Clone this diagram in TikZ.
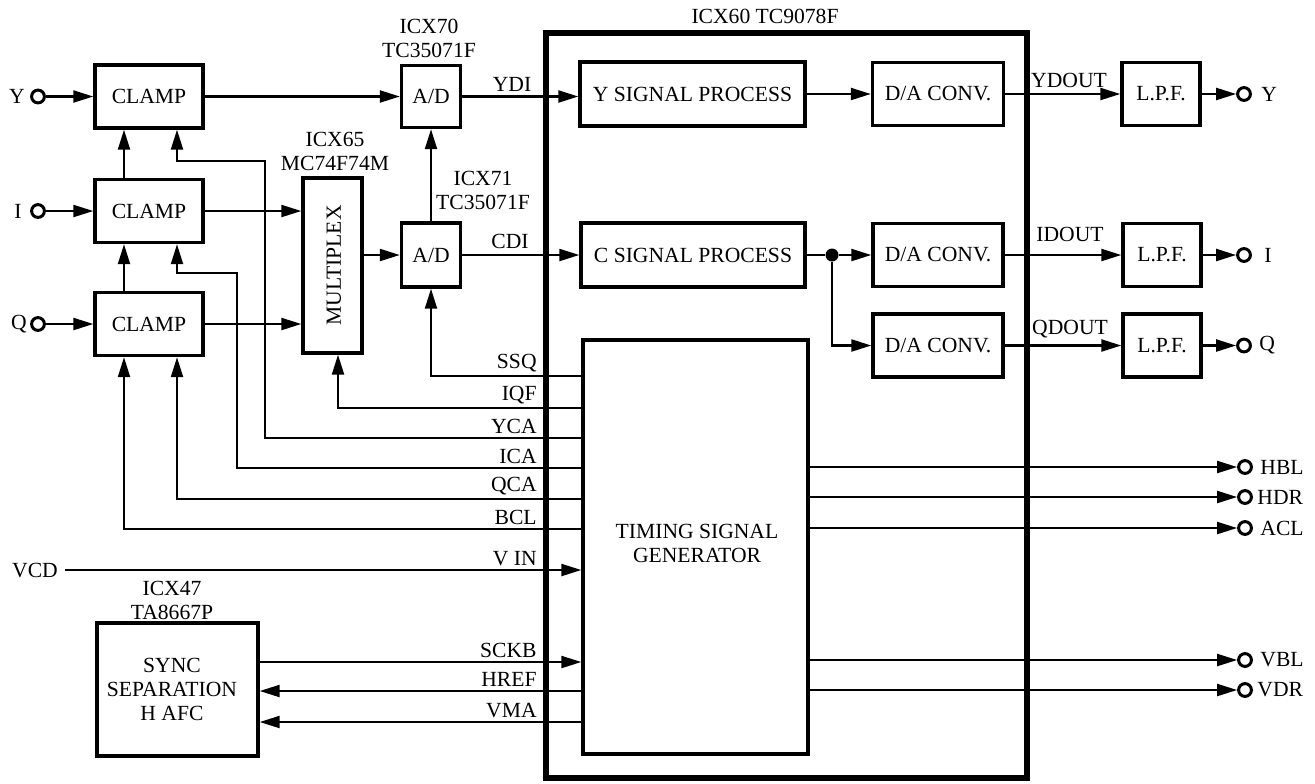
\documentclass[tikz,border=0pt]{standalone}
\usepackage{fontspec}
\setmainfont{Liberation Serif}
\usetikzlibrary{arrows.meta,calc}
\begin{document}
\begin{tikzpicture}[x=0.5pt,y=-0.5pt,
  font=\fontsize{10.8}{12}\selectfont,
  box/.style={draw,line width=1.7pt,inner sep=0pt,align=center},
  wire/.style={line width=1.1pt},
  arr/.style={wire,-{Triangle[length=10pt,width=6pt]}},
  port/.style={circle,draw,line width=1.5pt,minimum size=6.4pt,inner sep=0pt},
  lab/.style={inner sep=0pt,align=center},
  sig/.style={inner sep=0pt,anchor=south east},
]
\useasboundingbox (0,0) rectangle (1315,783);

% big chip outline
\node[draw,line width=3pt,minimum width=240.5pt,minimum height=372.5pt,inner sep=0pt] (big) at (786.5,405.5) {};
\node[lab] (bigt) at (765,16) {ICX60 TC9078F};

% clamps
\node[box,minimum width=54pt,minimum height=31.5pt] (clY) at (149,96.5) {CLAMP};
\node[box,minimum width=54pt,minimum height=31.5pt] (clI) at (149,211) {CLAMP};
\node[box,minimum width=54pt,minimum height=31.5pt] (clQ) at (149,324) {CLAMP};

% inputs
\node[port] (inY) at (38,96.5) {};
\node[port] (inI) at (38,211) {};
\node[port] (inQ) at (38,324) {};
\node[lab] (tY) at (17,96.5) {Y};
\node[lab] (tI) at (18,211) {I};
\node[lab] (tQ) at (19,324) {Q};

% A/D converters and multiplexer
\node[box,minimum width=29.5pt,minimum height=31pt] (adY) at (431,96.5) {A/D};
\node[box,minimum width=29.5pt,minimum height=32pt] (adC) at (431,255) {A/D};
\node[lab] (adYt) at (429,38) {ICX70\\TC35071F};
\node[lab] (adCt) at (483,190) {ICX71\\TC35071F};
\node[box,minimum width=29.5pt,minimum height=87.5pt] (mux) at (332.5,265.5) {};
\node[lab,rotate=90] (muxt) at (334,265.5) {MULTIPLEX};
\node[lab] (muxh) at (335,151) {ICX65\\MC74F74M};

% inside chip
\node[box,minimum width=112.5pt,minimum height=32pt] (ysp) at (692.5,94) {Y SIGNAL PROCESS};
\node[box,minimum width=112pt,minimum height=32pt] (csp) at (693,255) {C SIGNAL PROCESS};
\node[box,minimum width=65.5pt,minimum height=31.5pt] (daY) at (938,94) {D/A CONV.};
\node[box,minimum width=65pt,minimum height=31.5pt] (daI) at (938,255) {D/A CONV.};
\node[box,minimum width=65pt,minimum height=31.5pt] (daQ) at (938,345.5) {D/A CONV.};
\node[box,minimum width=112.5pt,minimum height=207pt] (tsg) at (695.5,547) {};
\node[lab] (tsgt) at (697,543) {TIMING SIGNAL\\GENERATOR};
\node[circle,fill,minimum size=6.5pt,inner sep=0pt] (dot) at (832,255) {};

% low pass filters and outputs
\node[box,minimum width=39pt,minimum height=31.5pt] (lpY) at (1161,94) {L.P.F.};
\node[box,minimum width=39pt,minimum height=31.5pt] (lpI) at (1162,255) {L.P.F.};
\node[box,minimum width=39pt,minimum height=31.5pt] (lpQ) at (1162,345.5) {L.P.F.};
\node[port] (oY) at (1244,94) {};
\node[port] (oI) at (1244,255) {};
\node[port] (oQ) at (1244,345.5) {};
\node[lab,anchor=west] at (1261,94) {Y};
\node[lab,anchor=west] at (1264,255) {I};
\node[lab,anchor=west] at (1259,345.5) {Q};

% sync separator
\node[box,minimum width=80.5pt,minimum height=66.5pt] (sync) at (177.5,689.5) {};
\node[lab] (synct) at (172,689) {SYNC\\SEPARATION\\H AFC};
\node[lab] (syncl) at (172,600) {ICX47\\TA8667P};

% timing outputs
\node[port] (oHBL) at (1245,467) {};
\node[port] (oHDR) at (1245,497) {};
\node[port] (oACL) at (1245,528) {};
\node[port] (oVBL) at (1245,660) {};
\node[port] (oVDR) at (1245,690) {};
\node[lab,anchor=west] at (1260,467) {HBL};
\node[lab,anchor=west] at (1257,497) {HDR};
\node[lab,anchor=west] at (1260,528) {ACL};
\node[lab,anchor=west] at (1260,660) {VBL};
\node[lab,anchor=west] at (1257,690) {VDR};

% helper coordinates
\coordinate (xa) at (124,0);
\coordinate (xb) at (177,0);
\coordinate (xIQF) at (338,0);
\coordinate (kY) at (265,161);
\coordinate (kI) at (237,273);
\coordinate (ySSQ) at (0,376);
\coordinate (yIQF) at (0,408);
\coordinate (yYCA) at (0,438);
\coordinate (yICA) at (0,468);
\coordinate (yQCA) at (0,499);
\coordinate (yBCL) at (0,529);
\coordinate (ySCKB) at (0,662);
\coordinate (yHREF) at (0,691);
\coordinate (yVMA) at (0,722);
\node[inner sep=3.5pt] (vcd) at (35,570) {VCD};

% Y path
\draw[arr] (inY) -- (clY);
\draw[arr] (clY) -- (adY);
\draw[arr] (adY.east) -- (adY.east -| ysp.west);
\draw[arr] (ysp) -- (daY);
\draw[arr] (daY) -- (lpY);
\draw[arr] (lpY) -- (oY);

% I/Q path
\draw[arr] (inI) -- (clI);
\draw[arr] (inQ) -- (clQ);
\draw[arr] (clI.east) -- (clI.east -| mux.west);
\draw[arr] (clQ.east) -- (clQ.east -| mux.west);
\draw[arr] (mux.east |- adC) -- (adC);
\draw[arr] (adC) -- (adY);
\draw[arr] (adC) -- (csp);
\draw[wire] (csp) -- (dot);
\draw[arr] (dot) -- (daI);
\draw[arr] (dot) |- (daQ);
\draw[arr] (daI) -- (lpI);
\draw[arr] (lpI) -- (oI);
\draw[arr] (daQ) -- (lpQ);
\draw[arr] (lpQ) -- (oQ);

% clamp chain
\draw[arr] (clQ.north -| xa) -- (clI.south -| xa);
\draw[arr] (clI.north -| xa) -- (clY.south -| xa);

% timing inputs (left)
\draw[arr] (tsg.west |- ySSQ) -| (adC.south);
\draw[arr] (tsg.west |- yIQF) -| (mux.south -| xIQF);
\draw[arr] (tsg.west |- yYCA) -| (kY) -| (clY.south -| xb);
\draw[arr] (tsg.west |- yICA) -| (kI) -| (clI.south -| xb);
\draw[arr] (tsg.west |- yQCA) -| (clQ.south -| xb);
\draw[arr] (tsg.west |- yBCL) -| (clQ.south -| xa);
\draw[arr] (vcd) -- (tsg.west |- vcd);
\draw[arr] (sync.east |- ySCKB) -- (tsg.west |- ySCKB);
\draw[arr] (tsg.west |- yHREF) -- (sync.east |- yHREF);
\draw[arr] (tsg.west |- yVMA) -- (sync.east |- yVMA);

% timing outputs (right)
\draw[arr] (tsg.east |- oHBL) -- (oHBL);
\draw[arr] (tsg.east |- oHDR) -- (oHDR);
\draw[arr] (tsg.east |- oACL) -- (oACL);
\draw[arr] (tsg.east |- oVBL) -- (oVBL);
\draw[arr] (tsg.east |- oVDR) -- (oVDR);

% signal labels
\node[lab] at (512,84) {YDI};
\node[lab] at (510,241) {CDI};
\node[lab] at (1069,80) {YDOUT};
\node[lab] at (1070,234) {IDOUT};
\node[lab] at (1070,329) {QDOUT};
\node[sig] at (537,372) {SSQ};
\node[sig] at (537,404) {IQF};
\node[sig] at (537,434) {YCA};
\node[sig] at (537,464) {ICA};
\node[sig] at (537,495) {QCA};
\node[sig] at (537,525) {BCL};
\node[sig] at (537,566) {V IN};
\node[sig] at (537,658) {SCKB};
\node[sig] at (537,687) {HREF};
\node[sig] at (537,718) {VMA};
\end{tikzpicture}
\end{document}
